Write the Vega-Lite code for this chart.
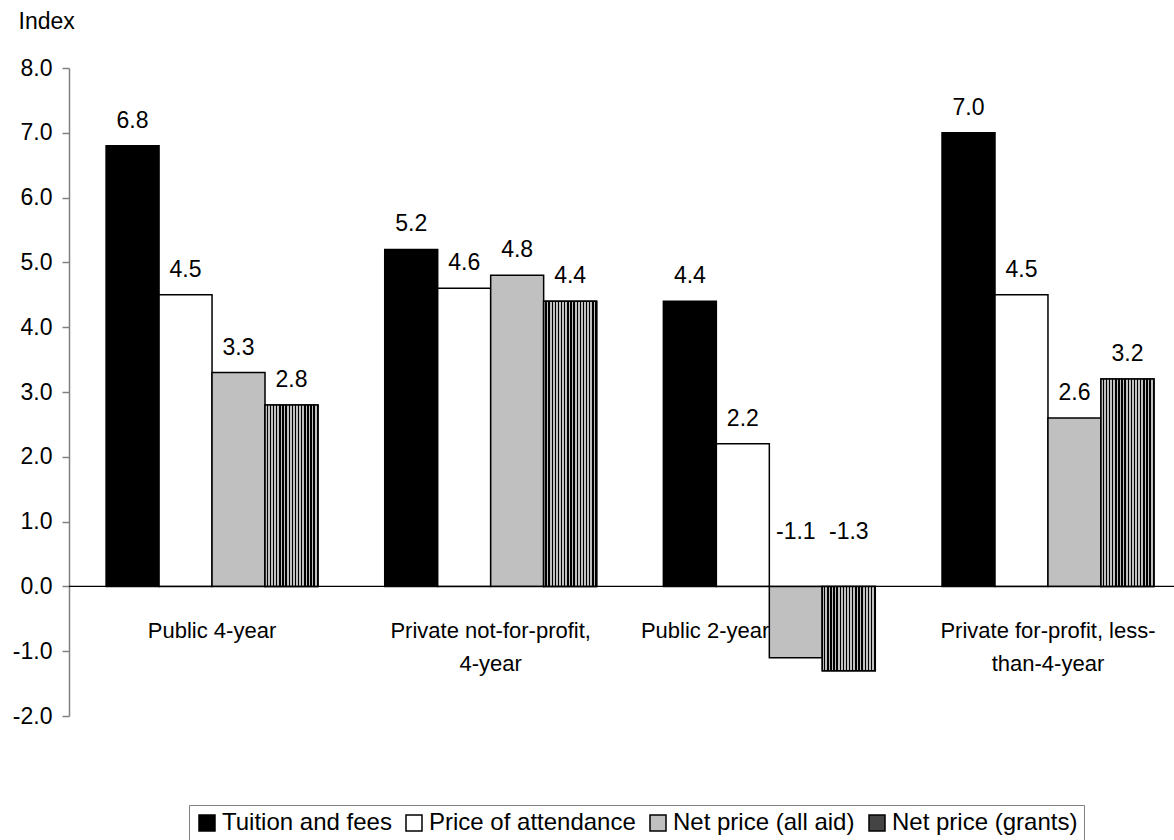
{
  "$schema": "https://vega.github.io/schema/vega-lite/v6.json",
  "width": 1105,
  "height": 648,
  "autosize": "none",
  "padding": {"left": 69, "top": 68, "right": 0, "bottom": 124},
  "background": "white",
  "config": {
    "font": "Liberation Sans",
    "view": {"stroke": null},
    "text": {"font": "Liberation Sans"},
    "locale": {"number": {"decimal": ".", "thousands": ",", "grouping": [3], "currency": ["$", ""], "minus": "-"}}
  },
  "data": {
    "values": [
      {"group": "Public 4-year", "series": "Tuition and fees", "value": 6.8},
      {"group": "Public 4-year", "series": "Price of attendance", "value": 4.5},
      {"group": "Public 4-year", "series": "Net price (all aid)", "value": 3.3},
      {"group": "Public 4-year", "series": "Net price (grants)", "value": 2.8},
      {"group": "Private not-for-profit, 4-year", "series": "Tuition and fees", "value": 5.2},
      {"group": "Private not-for-profit, 4-year", "series": "Price of attendance", "value": 4.6},
      {"group": "Private not-for-profit, 4-year", "series": "Net price (all aid)", "value": 4.8},
      {"group": "Private not-for-profit, 4-year", "series": "Net price (grants)", "value": 4.4},
      {"group": "Public 2-year", "series": "Tuition and fees", "value": 4.4},
      {"group": "Public 2-year", "series": "Price of attendance", "value": 2.2},
      {"group": "Public 2-year", "series": "Net price (all aid)", "value": -1.1},
      {"group": "Public 2-year", "series": "Net price (grants)", "value": -1.3},
      {"group": "Private for-profit, less-than-4-year", "series": "Tuition and fees", "value": 7.0},
      {"group": "Private for-profit, less-than-4-year", "series": "Price of attendance", "value": 4.5},
      {"group": "Private for-profit, less-than-4-year", "series": "Net price (all aid)", "value": 2.6},
      {"group": "Private for-profit, less-than-4-year", "series": "Net price (grants)", "value": 3.2}
    ]
  },
  "layer": [
    {
      "mark": {"type": "bar", "stroke": "black", "strokeWidth": 1.5},
      "encoding": {
        "x": {
          "field": "group", "type": "nominal",
          "sort": ["Public 4-year", "Private not-for-profit, 4-year", "Public 2-year", "Private for-profit, less-than-4-year"],
          "scale": {"domain": ["Public 4-year", "Private not-for-profit, 4-year", "Public 2-year", "Private for-profit, less-than-4-year"], "range": [0, 1122], "paddingInner": 0, "paddingOuter": 0.0133},
          "axis": {
            "title": null, "orient": "bottom", "offset": -96, "domain": false, "ticks": false, "zindex": 1,
            "labelPadding": 0, "labelAngle": 0, "labelFontSize": 22, "labelColor": "black",
            "labelBaseline": "top", "labelLineHeight": 33, "labelBound": false, "labelOverlap": false, "labelLimit": 400,
            "labelAlign": {"condition": {"test": "datum.value == 'Public 2-year'", "value": "right"}, "value": "center"},
            "labelExpr": "datum.value == 'Private not-for-profit, 4-year' ? ['Private not-for-profit,', '4-year'] : datum.value == 'Private for-profit, less-than-4-year' ? ['Private for-profit, less-', 'than-4-year'] : datum.value"
          }
        },
        "xOffset": {
          "field": "series", "type": "nominal",
          "scale": {"domain": ["Tuition and fees", "Price of attendance", "Net price (all aid)", "Net price (grants)"], "paddingInner": 0, "paddingOuter": 0.63}
        },
        "y": {
          "field": "value", "type": "quantitative",
          "scale": {"domain": [-2, 8], "nice": false, "zero": false},
          "axis": {
            "title": "Index", "titleAngle": 0, "titleAlign": "left", "titleBaseline": "alphabetic",
            "titleX": -51, "titleY": -40, "titleFontSize": 23, "titleFontWeight": "normal", "titleColor": "black",
            "values": [-2, -1, 0, 1, 2, 3, 4, 5, 6, 7, 8], "format": ".1f",
            "labelFontSize": 23, "labelColor": "black", "labelPadding": 10,
            "domainColor": "#808080", "domainWidth": 1.5, "tickColor": "#808080", "tickWidth": 1.5, "tickSize": 7,
            "grid": false
          }
        },
        "fill": {
          "field": "series", "type": "nominal",
          "scale": {"domain": ["Tuition and fees", "Price of attendance", "Net price (all aid)", "Net price (grants)"], "range": ["#000000", "#ffffff", "#c0c0c0", "#444444"]},
          "legend": {
            "title": null, "orient": "none", "legendX": 120, "legendY": 737,
            "direction": "horizontal", "columns": 4, "columnPadding": 10,
            "labelFontSize": 24, "labelColor": "black", "labelOffset": 3, "labelLimit": 400,
            "symbolType": "square", "symbolSize": 256, "symbolStrokeColor": "black", "symbolStrokeWidth": 1.5,
            "padding": 6, "strokeColor": "#808080", "fillColor": "white"
          }
        }
      }
    },
    {
      "transform": [{"filter": "datum.series == 'Net price (grants)'"}],
      "mark": {
        "type": "bar", "stroke": "black", "strokeWidth": 1.5,
        "fill": {
          "gradient": "linear", "x1": 0, "x2": 1, "y1": 0, "y2": 0,
          "stops": [
            {"offset": 0, "color": "#c0c0c0"}, {"offset": 0.0324, "color": "#c0c0c0"}, {"offset": 0.0324, "color": "#000000"}, {"offset": 0.0588, "color": "#000000"},
            {"offset": 0.0588, "color": "#c0c0c0"}, {"offset": 0.0912, "color": "#c0c0c0"}, {"offset": 0.0912, "color": "#000000"}, {"offset": 0.1176, "color": "#000000"},
            {"offset": 0.1176, "color": "#c0c0c0"}, {"offset": 0.15, "color": "#c0c0c0"}, {"offset": 0.15, "color": "#000000"}, {"offset": 0.1765, "color": "#000000"},
            {"offset": 0.1765, "color": "#c0c0c0"}, {"offset": 0.2088, "color": "#c0c0c0"}, {"offset": 0.2088, "color": "#000000"}, {"offset": 0.2353, "color": "#000000"},
            {"offset": 0.2353, "color": "#c0c0c0"}, {"offset": 0.2676, "color": "#c0c0c0"}, {"offset": 0.2676, "color": "#000000"}, {"offset": 0.2941, "color": "#000000"},
            {"offset": 0.2941, "color": "#c0c0c0"}, {"offset": 0.3265, "color": "#c0c0c0"}, {"offset": 0.3265, "color": "#000000"}, {"offset": 0.3529, "color": "#000000"},
            {"offset": 0.3529, "color": "#c0c0c0"}, {"offset": 0.3853, "color": "#c0c0c0"}, {"offset": 0.3853, "color": "#000000"}, {"offset": 0.4118, "color": "#000000"},
            {"offset": 0.4118, "color": "#c0c0c0"}, {"offset": 0.4441, "color": "#c0c0c0"}, {"offset": 0.4441, "color": "#000000"}, {"offset": 0.4706, "color": "#000000"},
            {"offset": 0.4706, "color": "#c0c0c0"}, {"offset": 0.5029, "color": "#c0c0c0"}, {"offset": 0.5029, "color": "#000000"}, {"offset": 0.5294, "color": "#000000"},
            {"offset": 0.5294, "color": "#c0c0c0"}, {"offset": 0.5618, "color": "#c0c0c0"}, {"offset": 0.5618, "color": "#000000"}, {"offset": 0.5882, "color": "#000000"},
            {"offset": 0.5882, "color": "#c0c0c0"}, {"offset": 0.6206, "color": "#c0c0c0"}, {"offset": 0.6206, "color": "#000000"}, {"offset": 0.6471, "color": "#000000"},
            {"offset": 0.6471, "color": "#c0c0c0"}, {"offset": 0.6794, "color": "#c0c0c0"}, {"offset": 0.6794, "color": "#000000"}, {"offset": 0.7059, "color": "#000000"},
            {"offset": 0.7059, "color": "#c0c0c0"}, {"offset": 0.7382, "color": "#c0c0c0"}, {"offset": 0.7382, "color": "#000000"}, {"offset": 0.7647, "color": "#000000"},
            {"offset": 0.7647, "color": "#c0c0c0"}, {"offset": 0.7971, "color": "#c0c0c0"}, {"offset": 0.7971, "color": "#000000"}, {"offset": 0.8235, "color": "#000000"},
            {"offset": 0.8235, "color": "#c0c0c0"}, {"offset": 0.8559, "color": "#c0c0c0"}, {"offset": 0.8559, "color": "#000000"}, {"offset": 0.8824, "color": "#000000"},
            {"offset": 0.8824, "color": "#c0c0c0"}, {"offset": 0.9147, "color": "#c0c0c0"}, {"offset": 0.9147, "color": "#000000"}, {"offset": 0.9412, "color": "#000000"},
            {"offset": 0.9412, "color": "#c0c0c0"}, {"offset": 0.9735, "color": "#c0c0c0"}, {"offset": 0.9735, "color": "#000000"}, {"offset": 1, "color": "#000000"}
          ]
        }
      },
      "encoding": {
        "x": {"field": "group", "type": "nominal"},
        "xOffset": {"field": "series", "type": "nominal"},
        "y": {"field": "value", "type": "quantitative"}
      }
    },
    {
      "data": {"values": [{}]},
      "mark": {"type": "rule", "color": "black", "strokeWidth": 1.2},
      "encoding": {"y": {"datum": 0}}
    },
    {
      "transform": [{"filter": "datum.value >= 0"}],
      "mark": {"type": "text", "fontSize": 23, "color": "black", "baseline": "alphabetic", "dy": -18},
      "encoding": {
        "x": {"field": "group", "type": "nominal"},
        "xOffset": {"field": "series", "type": "nominal"},
        "y": {"field": "value", "type": "quantitative"},
        "text": {"field": "value", "type": "quantitative", "format": ".1f"}
      }
    },
    {
      "transform": [{"filter": "datum.value < 0"}],
      "mark": {"type": "text", "fontSize": 23, "color": "black", "baseline": "alphabetic", "dy": -47},
      "encoding": {
        "x": {"field": "group", "type": "nominal"},
        "xOffset": {"field": "series", "type": "nominal"},
        "y": {"datum": 0},
        "text": {"field": "value", "type": "quantitative", "format": ".1f"}
      }
    }
  ]
}
